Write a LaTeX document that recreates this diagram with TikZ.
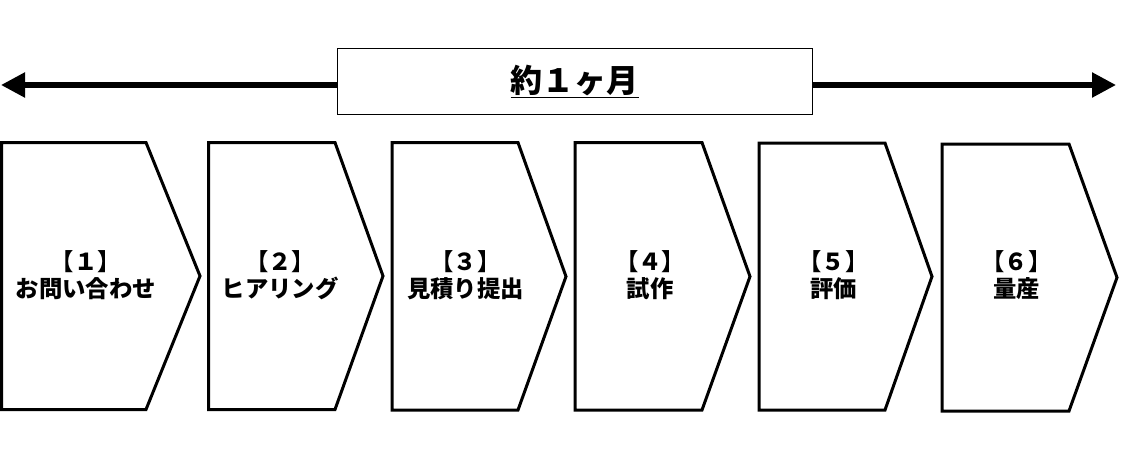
\documentclass[tikz,border=0pt]{standalone}
\usepackage{fontspec}
\newfontfamily\jp{Noto Sans CJK JP}
\usetikzlibrary{arrows.meta}
\begin{document}
\begin{tikzpicture}[x=0.75pt,y=-0.75pt,
  chev/.style={draw=black,line width=2.25pt,line join=miter,fill=white},
  steptext/.style={font=\jp\bfseries\fontsize{17.5pt}{20.25pt}\selectfont,align=center,inner sep=0pt},
  arr/.style={line width=4pt,-{Triangle[length=18pt,width=18pt]}},
  titlebox/.style={draw=black,line width=0.75pt,fill=white,minimum width=356.25pt,minimum height=48.75pt,inner sep=0pt,font=\jp\bfseries\fontsize{24pt}{28pt}\selectfont}]
\useasboundingbox (0,0) rectangle (1131,460);
% title and arrows
\node[titlebox] (title) at (574.5,81.5) {\underline{約１ヶ月}};
\coordinate (larr) at (1,85);
\coordinate (rarr) at (1116,85);
\draw[arr] (larr -| title.west) -- (larr);
\draw[arr] (rarr -| title.east) -- (rarr);
% chevrons
\draw[chev] (1.5,142.5) -- (146,142.5) -- (200,276) -- (146,409.5) -- (1.5,409.5) -- cycle;
\draw[chev] (208.5,142.5) -- (335,142.5) -- (383,276) -- (335,409.5) -- (208.5,409.5) -- cycle;
\draw[chev] (392,142.5) -- (518,142.5) -- (566,276.5) -- (518,410) -- (392,410) -- cycle;
\draw[chev] (575,142.5) -- (702,142.5) -- (750,276.5) -- (702,410) -- (575,410) -- cycle;
\draw[chev] (759,143) -- (885,143) -- (932,276.5) -- (885,410) -- (759,410) -- cycle;
\draw[chev] (942,144) -- (1069,144) -- (1117,277.5) -- (1069,411) -- (942,411) -- cycle;
% step labels
\node[steptext] (s1) at (86,275) {【１】\\お問い合わせ};
\node[steptext] (s2) at (280,275) {【２】\\ヒアリング};
\node[steptext] (s3) at (465.5,275) {【３】\\見積り提出};
\node[steptext] (s4) at (650,275) {【４】\\試作};
\node[steptext] (s5) at (833.5,275) {【５】\\評価};
\node[steptext] (s6) at (1016.5,275) {【６】\\量産};
\end{tikzpicture}
\end{document}
